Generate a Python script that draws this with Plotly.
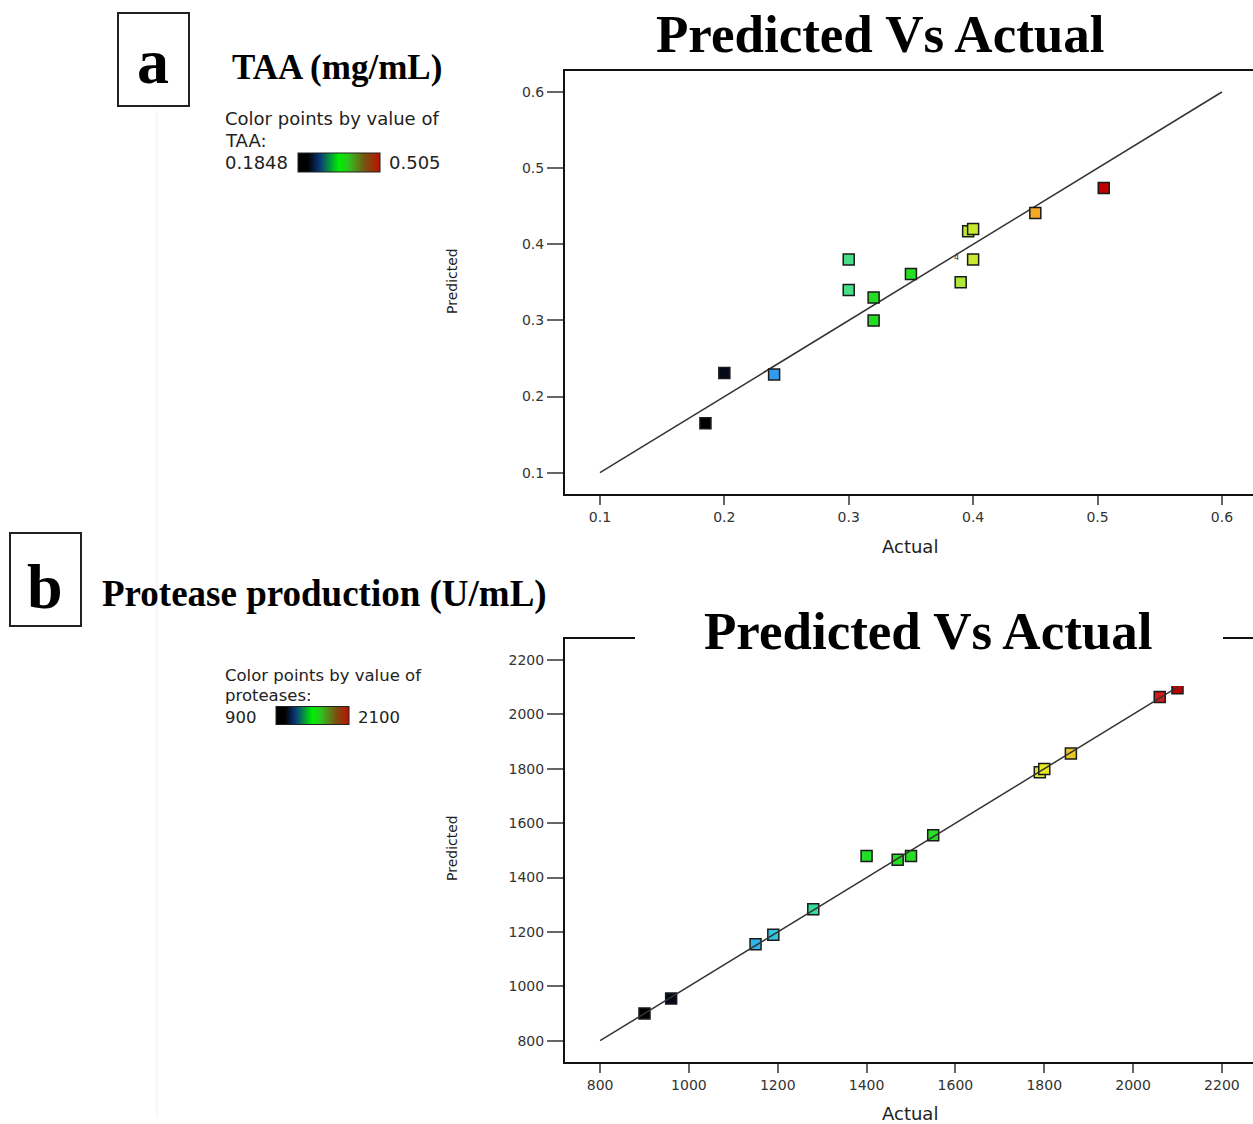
import plotly.graph_objects as go

W, H = 1253, 1124

# ---------------- data (panel a: TAA) ----------------
taa_actual = [0.1848, 0.20, 0.24, 0.30, 0.30, 0.32, 0.32, 0.35, 0.39, 0.40, 0.396, 0.40, 0.45, 0.505]
taa_predicted = [0.165, 0.231, 0.229, 0.380, 0.340, 0.330, 0.300, 0.361, 0.350, 0.380, 0.417, 0.420, 0.441, 0.474]
taa_ticks = [0.1, 0.2, 0.3, 0.4, 0.5, 0.6]
taa_ticktext = ["0.1", "0.2", "0.3", "0.4", "0.5", "0.6"]
taa_line = [0.1, 0.6]
taa_min, taa_max = 0.1848, 0.505

# ---------------- data (panel b: protease) ----------------
prot_actual = [900, 960, 1150, 1190, 1280, 1400, 1470, 1500, 1550, 1790, 1800, 1860, 2060, 2100]
prot_predicted = [900, 955, 1155, 1190, 1283, 1479, 1465, 1479, 1555, 1787, 1799, 1856, 2064, 2096]
prot_ticks = [800, 1000, 1200, 1400, 1600, 1800, 2000, 2200]
prot_ticktext = ["800", "1000", "1200", "1400", "1600", "1800", "2000", "2200"]
prot_line = [800, 2100]
prot_min, prot_max = 900, 2100

# colour scales
marker_scale = [
    [0.0, "#000000"], [0.06, "#040b1c"], [0.17, "#3399ee"], [0.23, "#30c4ea"],
    [0.32, "#33dd99"], [0.36, "#48de88"], [0.42, "#22dd22"], [0.55, "#2ade22"],
    [0.64, "#aee63a"], [0.67, "#c8e830"], [0.75, "#e8e820"], [0.80, "#e8c828"],
    [0.83, "#f5a623"], [0.97, "#d01818"], [1.0, "#c00000"],
]
legend_scale = [
    [0.0, "#000000"], [0.12, "#000000"], [0.27, "#0a3a7a"], [0.5, "#00ee00"],
    [0.62, "#30c020"], [0.82, "#7a5010"], [1.0, "#bb1100"],
]

SANS = "DejaVu Sans"
SERIF = "Liberation Serif"


def px(x):
    return x / W


def py(y):
    return 1 - y / H


fig = go.Figure()

# panel a
fig.add_trace(go.Scatter(x=taa_line, y=taa_line, mode="lines",
                         line=dict(color="#333333", width=1.5),
                         xaxis="x", yaxis="y", showlegend=False, hoverinfo="skip"))
fig.add_trace(go.Scatter(
    x=taa_actual, y=taa_predicted, mode="markers", xaxis="x", yaxis="y", showlegend=False,
    marker=dict(symbol="square", size=11, color=taa_actual, colorscale=marker_scale,
                cmin=taa_min, cmax=taa_max, line=dict(color="#1a1a1a", width=1.5)),
))
# legend bar a
fig.add_trace(go.Scatter(
    x=[None], y=[None], mode="markers", xaxis="x", yaxis="y", showlegend=False, hoverinfo="skip",
    marker=dict(color=[taa_min], colorscale=legend_scale, cmin=taa_min, cmax=taa_max, showscale=True,
                colorbar=dict(orientation="h", x=px(339), xanchor="center", y=py(162.5), yanchor="middle",
                              len=82, lenmode="pixels", thickness=19, xpad=0, ypad=0,
                              outlinewidth=1, outlinecolor="#222222", showticklabels=False, ticks="")),
))

# panel b
fig.add_trace(go.Scatter(
    x=prot_actual, y=prot_predicted, mode="markers", xaxis="x2", yaxis="y2", showlegend=False,
    marker=dict(symbol="square", size=11, color=prot_actual, colorscale=marker_scale,
                cmin=prot_min, cmax=prot_max, line=dict(color="#1a1a1a", width=1.5)),
))
fig.add_trace(go.Scatter(x=prot_line, y=prot_line, mode="lines",
                         line=dict(color="#333333", width=1.5),
                         xaxis="x2", yaxis="y2", showlegend=False, hoverinfo="skip"))
fig.add_trace(go.Scatter(
    x=[None], y=[None], mode="markers", xaxis="x2", yaxis="y2", showlegend=False, hoverinfo="skip",
    marker=dict(color=[prot_min], colorscale=legend_scale, cmin=prot_min, cmax=prot_max, showscale=True,
                colorbar=dict(orientation="h", x=px(312.5), xanchor="center", y=py(716), yanchor="middle",
                              len=73, lenmode="pixels", thickness=18, xpad=0, ypad=0,
                              outlinewidth=1, outlinecolor="#222222", showticklabels=False, ticks="")),
))

axis_common = dict(showgrid=False, zeroline=False, showline=True, linecolor="#111111", linewidth=2,
                   ticks="outside", tickcolor="#666666", tickwidth=1.5,
                   tickfont=dict(family=SANS, size=14, color="#333333"))

fig.update_layout(
    width=W, height=H, margin=dict(l=0, r=0, t=0, b=0),
    paper_bgcolor="white", plot_bgcolor="white",
    xaxis=dict(domain=[px(565), 1.0], range=[0.0719, 0.625], tickvals=taa_ticks, ticktext=taa_ticktext,
               anchor="y", mirror=True, ticklen=9, **axis_common),
    yaxis=dict(domain=[py(494), py(71)], range=[0.072, 0.6276], tickvals=taa_ticks, ticktext=taa_ticktext,
               anchor="x", ticklen=16, **axis_common),
    xaxis2=dict(domain=[px(565), 1.0], range=[721, 2270], tickvals=prot_ticks, ticktext=prot_ticktext,
                anchor="y2", mirror=True, ticklen=9, **axis_common),
    yaxis2=dict(domain=[py(1062), py(639)], range=[721.7, 2277], tickvals=prot_ticks, ticktext=prot_ticktext,
                anchor="x2", ticklen=16, **axis_common),
)

shapes = [
    # panel label boxes
    dict(type="rect", xref="paper", yref="paper", x0=px(118), x1=px(189), y0=py(106), y1=py(13),
         line=dict(color="#222222", width=2), fillcolor="rgba(0,0,0,0)"),
    dict(type="rect", xref="paper", yref="paper", x0=px(10), x1=px(81), y0=py(626), y1=py(533),
         line=dict(color="#222222", width=2), fillcolor="rgba(0,0,0,0)"),
    # white box behind panel-b title (covers frame line)
    dict(type="rect", xref="paper", yref="paper", x0=px(635), x1=px(1223), y0=py(686), y1=py(600),
         line=dict(width=0), fillcolor="white", layer="above"),
    # faint edge of pasted image
    dict(type="line", xref="paper", yref="paper", x0=px(157), x1=px(157), y0=py(110), y1=py(1118),
         line=dict(color="#f0f0f0", width=1)),
]
fig.update_layout(shapes=shapes)


def ann(text, x, y, size, family=SANS, xanchor="center", color="#111111", bold=False, textangle=0):
    t = f"<b>{text}</b>" if bold else text
    return dict(text=t, x=px(x), y=py(y), xref="paper", yref="paper", xanchor=xanchor, yanchor="middle",
                showarrow=False, textangle=textangle, borderpad=0,
                font=dict(family=family, size=size, color=color))


annotations = [
    ann("a", 153, 62, 64, SERIF, bold=True, color="#000000"),
    ann("b", 45, 586, 64, SERIF, bold=True, color="#000000"),
    ann("TAA (mg/mL)", 337, 67, 35, SERIF, bold=True, color="#000000"),
    ann("Protease production (U/mL)", 325, 594, 37, SERIF, bold=True, color="#000000"),
    ann("Predicted Vs Actual", 880, 34, 53, SERIF, bold=True, color="#000000"),
    ann("Predicted Vs Actual", 928, 631, 53, SERIF, bold=True, color="#000000"),
    ann("Color points by value of", 224, 118, 18, xanchor="left", color="#222222"),
    ann("TAA:", 224, 140, 18, xanchor="left", color="#222222"),
    ann("0.1848", 224, 162, 18, xanchor="left", color="#222222"),
    ann("0.505", 388, 162, 18, xanchor="left", color="#222222"),
    ann("Color points by value of", 224, 675, 16.5, xanchor="left", color="#222222"),
    ann("proteases:", 224, 695, 16.5, xanchor="left", color="#222222"),
    ann("900", 224, 717, 16.5, xanchor="left", color="#222222"),
    ann("2100", 357, 717, 16.5, xanchor="left", color="#222222"),
    ann("Actual", 910, 546, 18, color="#222222"),
    ann("Actual", 910, 1113, 18, color="#222222"),
    ann("Predicted", 452, 281, 14, color="#222222", textangle=-90),
    ann("Predicted", 452, 848, 14, color="#222222", textangle=-90),
    # replicate count label next to a TAA point
    dict(text="4", x=taa_actual[9], y=taa_predicted[9], xref="x", yref="y", xshift=-17, yshift=2,
         showarrow=False, font=dict(family=SANS, size=8, color="#333333")),
]
fig.update_layout(annotations=annotations)

fig.write_html("out.html")
